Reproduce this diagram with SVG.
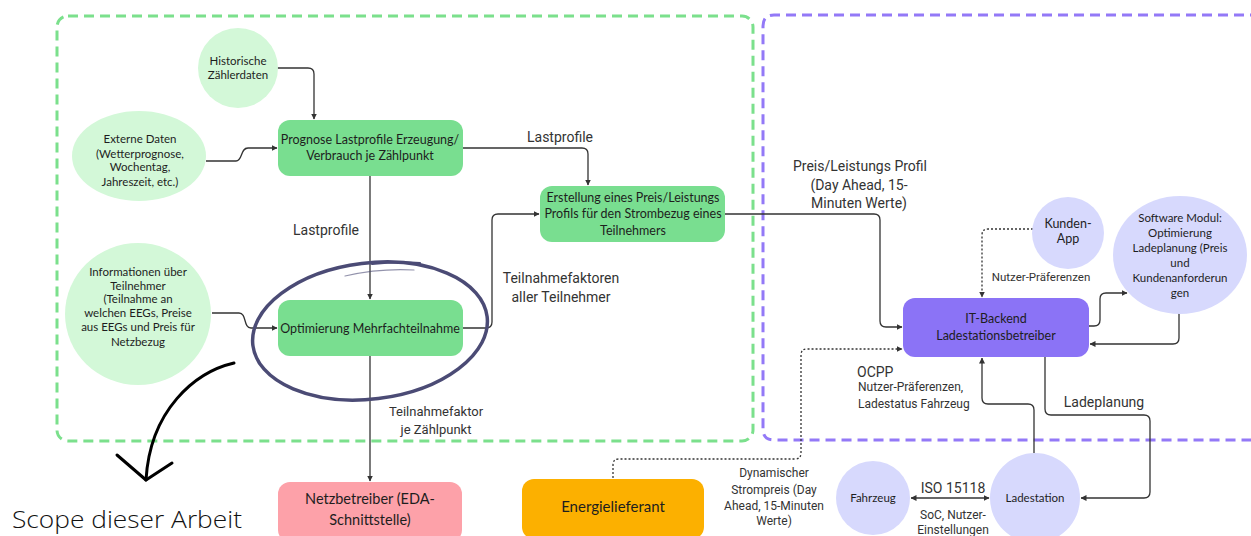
<svg xmlns="http://www.w3.org/2000/svg" width="1251" height="536" viewBox="0 0 1251 536">
<style>
.bg{fill:#ffffff}
.frame-g{fill:none;stroke:#7be08c;stroke-width:3;stroke-dasharray:10 6}
.frame-p{fill:none;stroke:#9379f7;stroke-width:3;stroke-dasharray:10 6}
.gbox{fill:#79de90}
.gcirc{fill:#d3f8d8}
.pbox{fill:#8b73f6}
.pcirc{fill:#d7d9fd}
.pink{fill:#fda1a9}
.orange{fill:#fcb000}
.t{font-family:Lato,"Noto Sans",sans-serif;fill:#1e1e1e;text-anchor:middle}
.n{font-size:12.5px}
.s{font-size:11.5px}
.lbl{font-family:Roboto,"Liberation Sans",sans-serif;fill:#333;text-anchor:middle}
.c{fill:none;stroke:#333;stroke-width:1.3;stroke-linejoin:round}
.d{fill:none;stroke:#333;stroke-width:1.3;stroke-dasharray:2 2}
</style>
<defs>
<marker id="ah" viewBox="0 0 6 6" refX="5.5" refY="3" markerWidth="6" markerHeight="6" markerUnits="userSpaceOnUse" orient="auto-start-reverse">
<path d="M0,0 L6,3 L0,6 z" fill="#333"/>
</marker>
</defs>
<rect class="bg" x="0" y="0" width="1251" height="536"/>

<g id="frames">
<rect class="frame-g" x="57" y="16" width="696" height="425" rx="11"/>
<path class="frame-p" d="M1260,15 H774 Q763,15 763,26 V429 Q763,440 774,440 H1260"/>
</g>

<g id="connectors">
<path class="c" marker-end="url(#ah)" d="M277,68 H308 Q314,68 314,74 V119"/>
<path class="c" marker-end="url(#ah)" d="M206,161 H236 C243,161 240,148 248,148 H277"/>
<path class="c" marker-end="url(#ah)" d="M212,313 H239 C247,313 243,328 251,328 H277"/>
<path class="c" marker-end="url(#ah)" d="M370,176 V299"/>
<path class="c" marker-end="url(#ah)" d="M463,148 H582 Q588,148 588,154 V185"/>
<path class="c" marker-end="url(#ah)" d="M463,328 H486 Q492,328 492,322 V220 Q492,214 498,214 H539"/>
<path class="c" marker-end="url(#ah)" d="M725,214 H874 Q880,214 880,220 V321 Q880,327 886,327 H902"/>
<path class="c" marker-end="url(#ah)" d="M370,356 V481"/>
<path class="d" marker-end="url(#ah)" d="M1033,229 H988 Q982,229 982,235 V297"/>
<path class="c" marker-end="url(#ah)" d="M1089,326 H1094 Q1100,326 1100,320 V299 Q1100,293 1106,293 H1127"/>
<path class="c" marker-end="url(#ah)" d="M1179,313 V338 Q1179,344 1173,344 H1090"/>
<path class="d" marker-end="url(#ah)" d="M613,478 V465 Q613,459 619,459 H795 Q801,459 801,453 V355 Q801,349 807,349 H902"/>
<path class="c" marker-end="url(#ah)" d="M1034,453 V410 Q1034,404 1028,404 H988 Q982,404 982,398 V358"/>
<path class="c" marker-end="url(#ah)" d="M1045,357 V409 Q1045,415 1051,415 H1144 Q1150,415 1150,421 V492 Q1150,498 1144,498 H1081"/>
<path class="c" marker-start="url(#ah)" marker-end="url(#ah)" d="M911,498 H989"/>
</g>

<g id="connector-labels">
<text class="lbl" x="326" y="235" font-size="14">Lastprofile</text>
<text class="lbl" x="560" y="142" font-size="14">Lastprofile</text>
<text class="lbl" x="561" y="283" font-size="14">Teilnahmefaktoren</text>
<text class="lbl" x="561" y="302" font-size="14">aller Teilnehmer</text>
<text class="lbl" x="436" y="416" font-size="13">Teilnahmefaktor</text>
<text class="lbl" x="436" y="434" font-size="13">je Zählpunkt</text>
<text class="lbl" x="860" y="171" font-size="14">Preis/Leistungs Profil</text>
<text class="lbl" x="859" y="190" font-size="14">(Day Ahead, 15-</text>
<text class="lbl" x="859" y="208" font-size="14">Minuten Werte)</text>
<text class="lbl" x="1041" y="281" font-size="11.5">Nutzer-Präferenzen</text>
<text class="lbl" x="857" y="377" font-size="14" text-anchor="start" style="text-anchor:start">OCPP</text>
<text class="lbl" x="858" y="391" font-size="12" style="text-anchor:start">Nutzer-Präferenzen,</text>
<text class="lbl" x="858" y="408" font-size="12" style="text-anchor:start">Ladestatus Fahrzeug</text>
<text class="lbl" x="1104" y="407" font-size="14">Ladeplanung</text>
<text class="lbl" x="774" y="477" font-size="12">Dynamischer</text>
<text class="lbl" x="774" y="494" font-size="12">Strompreis (Day</text>
<text class="lbl" x="774" y="510" font-size="12">Ahead, 15-Minuten</text>
<text class="lbl" x="774" y="525" font-size="12">Werte)</text>
<text class="lbl" x="953" y="493" font-size="14">ISO 15118</text>
<text class="lbl" x="953" y="519" font-size="12">SoC, Nutzer-</text>
<text class="lbl" x="953" y="534" font-size="12">Einstellungen</text>
</g>

<g id="scope-mark">
<ellipse cx="370" cy="331" rx="118" ry="68" transform="rotate(-7 370 331)" fill="none" stroke="#4b4b75" stroke-width="3.5"/>
<path d="M372,264 Q398,261 420,263" fill="none" stroke="#4b4b75" stroke-width="2" stroke-linecap="round"/>
<path d="M345,276 Q380,268 414,270" fill="none" stroke="#4b4b75" stroke-width="1.2" stroke-linecap="round" opacity="0.6"/>
<path d="M234,363 C195,372 150,410 146,480" fill="none" stroke="#000" stroke-width="3" stroke-linecap="round"/>
<path d="M117,455 L146,480 L172,463" fill="none" stroke="#000" stroke-width="3" stroke-linecap="round" stroke-linejoin="round"/>
<text x="12" y="528" font-family="'Open Sans',sans-serif" font-weight="300" font-size="23" fill="#111" textLength="230" lengthAdjust="spacingAndGlyphs">Scope dieser Arbeit</text>
</g>

<g id="historische">
<circle class="gcirc" cx="238" cy="68" r="40"/>
<text class="t s" x="238" y="65">Historische</text>
<text class="t s" x="238" y="79">Zählerdaten</text>
</g>

<g id="externe">
<ellipse class="gcirc" cx="139" cy="156" rx="67" ry="45"/>
<text class="t s" x="140" y="143">Externe Daten</text>
<text class="t s" x="140" y="158">(Wetterprognose,</text>
<text class="t s" x="140" y="171">Wochentag,</text>
<text class="t s" x="140" y="186">Jahreszeit, etc.)</text>
</g>

<g id="informationen">
<ellipse class="gcirc" cx="138" cy="314" rx="73" ry="71"/>
<text class="t s" x="138" y="276">Informationen über</text>
<text class="t s" x="138" y="290">Teilnehmer</text>
<text class="t s" x="138" y="303">(Teilnahme an</text>
<text class="t s" x="138" y="317">welchen EEGs, Preise</text>
<text class="t s" x="138" y="331">aus EEGs und Preis für</text>
<text class="t s" x="138" y="346">Netzbezug</text>
</g>

<g id="prognose">
<rect class="gbox" x="278" y="120" width="185" height="56" rx="12"/>
<text class="t n" x="370" y="144">Prognose Lastprofile Erzeugung/</text>
<text class="t n" x="370" y="160">Verbrauch je Zählpunkt</text>
</g>

<g id="optimierung">
<rect class="gbox" x="278" y="300" width="185" height="56" rx="12"/>
<text class="t n" x="370" y="333">Optimierung Mehrfachteilnahme</text>
</g>

<g id="erstellung">
<rect class="gbox" x="540" y="186" width="185" height="56" rx="12"/>
<text class="t n" x="633" y="202">Erstellung eines Preis/Leistungs</text>
<text class="t n" x="633" y="218">Profils für den Strombezug eines</text>
<text class="t n" x="633" y="235">Teilnehmers</text>
</g>

<g id="netzbetreiber">
<rect class="pink" x="278" y="482" width="184" height="60" rx="12"/>
<text class="t" x="370" y="504" font-size="14.5">Netzbetreiber (EDA-</text>
<text class="t" x="370" y="525" font-size="14.5">Schnittstelle)</text>
</g>

<g id="energielieferant">
<rect class="orange" x="522" y="479" width="182" height="60" rx="12"/>
<text class="t" x="613" y="512" font-size="15">Energielieferant</text>
</g>

<g id="it-backend">
<rect class="pbox" x="903" y="298" width="186" height="59" rx="12"/>
<text class="t n" x="996" y="323">IT-Backend</text>
<text class="t n" x="996" y="340">Ladestationsbetreiber</text>
</g>

<g id="kunden-app">
<circle class="pcirc" cx="1068" cy="233" r="36"/>
<text class="t n" x="1068" y="228">Kunden-</text>
<text class="t n" x="1068" y="243">App</text>
</g>

<g id="software-modul">
<ellipse class="pcirc" cx="1180" cy="255" rx="67" ry="59"/>
<text class="t s" x="1180" y="222">Software Modul:</text>
<text class="t s" x="1180" y="237">Optimierung</text>
<text class="t s" x="1180" y="252">Ladeplanung (Preis</text>
<text class="t s" x="1180" y="267">und</text>
<text class="t s" x="1180" y="282">Kundenanforderun</text>
<text class="t s" x="1180" y="297">gen</text>
</g>

<g id="fahrzeug">
<circle class="pcirc" cx="873" cy="498" r="37"/>
<text class="t s" x="873" y="502">Fahrzeug</text>
</g>

<g id="ladestation">
<circle class="pcirc" cx="1035" cy="498" r="45"/>
<text class="t s" x="1035" y="502">Ladestation</text>
</g>
</svg>
